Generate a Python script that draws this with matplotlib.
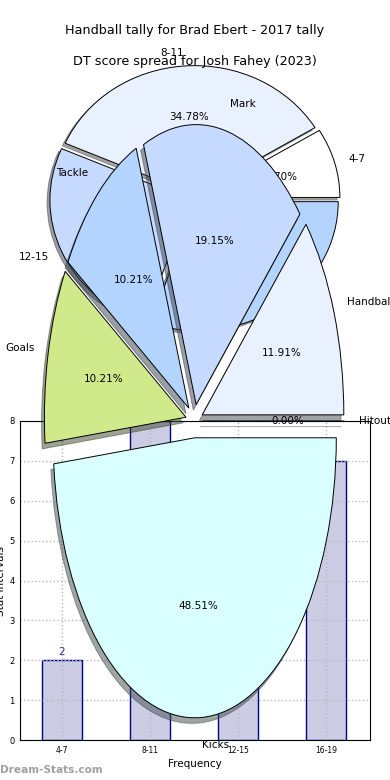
import matplotlib
matplotlib.use('Agg')
import matplotlib.pyplot as plt

# ---- data ----
bar_categories = ['4-7', '8-11', '12-15', '16-19']
bar_values = [2, 8, 6, 7]

pie1_labels = ['4-7', '8-11', '12-15', '16-19']
pie1_values = [2, 8, 6, 7]

pie2_labels = ['Hitout', 'Handball', 'Mark', 'Tackle', 'Goals', 'Kicks']
pie2_values = [0.00, 11.91, 19.15, 10.21, 10.21, 48.51]

y_ticks = [0, 1, 2, 3, 4, 5, 6, 7, 8]

title_top = 'Handball tally for Brad Ebert - 2017 tally'
title_pie = 'DT score spread for Josh Fahey (2023)'
x_label = 'Frequency'
y_label = 'Stat Intervals'
watermark = 'Dream-Stats.com'

# ---- styles ----
pie_colors = ['#ffffff', '#eaf1fe', '#c6d9fe', '#b3d4ff', '#d0ea8b', '#d9ffff']
shadow_style = {'ox': -0.0144, 'oy': -0.0144}

W, H = 390, 780
fig = plt.figure(figsize=(3.9, 7.8), dpi=100)


def px_axes(left, top, width, height):
    return fig.add_axes([left / W, 1 - (top + height) / H, width / W, height / H])


# ---- bar chart ----
ax_bar = px_axes(20, 421, 350, 319)
xs = list(range(len(bar_categories)))
ax_bar.bar(xs, bar_values, width=0.455, color=(0, 0, 0.5, 0.2),
           edgecolor='navy', linewidth=1.0)
ax_bar.set_xlim(-0.477, 3.5)
ax_bar.set_ylim(0, 8)
ax_bar.set_xticks(xs)
ax_bar.set_xticklabels(bar_categories, fontsize=5.5)
ax_bar.set_yticks(y_ticks)
ax_bar.tick_params(axis='y', labelsize=6)
ax_bar.tick_params(length=0, pad=4)
ax_bar.grid(True, linestyle=':', color='#b8b8b8', linewidth=1.0)
for x, v in zip(xs, bar_values):
    ax_bar.annotate(str(v), (x, v), xytext=(0, 2), textcoords='offset points',
                    ha='center', va='bottom', color='#2a2a9a', fontsize=7.5)
ax_bar.set_xlabel(x_label, fontsize=7.5, labelpad=3)
ax_bar.set_ylabel(y_label, fontsize=7.5, labelpad=2)

# ---- pie A ----
ax_p1 = px_axes(18.55, 37.25, 352.5, 322.5)
ax_p1.pie(pie1_values, labels=pie1_labels, colors=pie_colors[:4],
          explode=[0.03] * 4, autopct='%1.2f%%', shadow=shadow_style,
          startangle=0,
          wedgeprops={'edgecolor': 'black', 'linewidth': 0.7},
          textprops={'fontsize': 7.5})
ax_p1.set_aspect('auto')
ax_p1.set_xlim(-1.25, 1.25)
ax_p1.set_ylim(-1.25, 1.25)

# ---- pie B ----
ax_p2 = px_axes(17.3, 71, 354, 700)
ax_p2.pie(pie2_values, labels=pie2_labels, colors=pie_colors,
          explode=[0.06] * 6, autopct='%1.2f%%', shadow=shadow_style,
          startangle=0,
          wedgeprops={'edgecolor': 'black', 'linewidth': 0.7},
          textprops={'fontsize': 7.5})
ax_p2.set_aspect('auto')
ax_p2.set_xlim(-1.25, 1.25)
ax_p2.set_ylim(-1.25, 1.25)

# ---- titles & watermark ----
fig.text(194.5 / W, 1 - 34 / H, title_top, ha='center', va='baseline', fontsize=9.2)
fig.text(195 / W, 1 - 65 / H, title_pie, ha='center', va='baseline', fontsize=9.2)
fig.text(0.0, 1 - 773 / H, watermark, ha='left', va='baseline', fontsize=7.6,
         color='#a0a0a0', fontweight='bold')

fig.savefig('out.png', dpi=100)
